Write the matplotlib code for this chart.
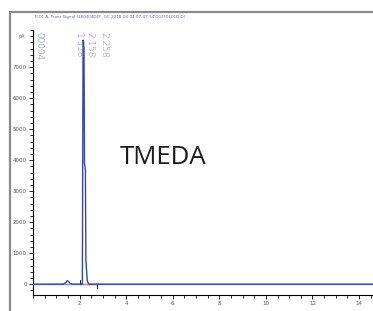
import matplotlib
matplotlib.use("Agg")
import matplotlib.pyplot as plt
from matplotlib.patches import Rectangle
from matplotlib.ticker import MultipleLocator

# chromatogram (min, pA)
tempo = [0.0, 1.30, 1.40, 1.47, 1.52, 1.60, 1.70, 2.00, 2.12, 2.15, 2.19,
         2.21, 2.25, 2.27, 2.33, 2.40, 2.70, 14.6]
sinal = [0, 0, 40, 110, 90, 20, 0, 0, 0, 7870, 7600,
         3900, 3700, 800, 100, 0, 0, 0]

# integration baseline and markers
base_ini = 2.00
base_fim = 2.73

titulo = "FID1 A, Front Signal (180404DEF_GC 2018-04-04 07-47-54\\102F0101D.D)"
composto = "TMEDA"

x_ticks = [2, 4, 6, 8, 10, 12, 14]
y_ticks = [0, 1000, 2000, 3000, 4000, 5000, 6000, 7000]

# rotated peak labels at the top (time, text)
rotulos_t = [0.25, 1.95, 2.45, 3.05]
rotulos_txt = ["00004", "1.518", "2.158", "2.258"]

fig = plt.figure(figsize=(3.73, 3.11), dpi=100)
fig.patch.set_facecolor("white")

# gray outer frame
fig.patches.append(Rectangle((10 / 373, -0.05), 1.1, 1 - 12 / 311 + 0.05,
                             transform=fig.transFigure, fill=False,
                             edgecolor="#8a8a8a", linewidth=1.6))

ax = fig.add_axes([33 / 373, 1 - 295 / 311, 1 - 33 / 373, (295 - 30) / 311])
ax.set_xlim(0, 14.6)
ax.set_ylim(-350, 8200)

ax.axhline(0, color="#8a9ad6", linewidth=1.0, zorder=1)
ax.plot(tempo, sinal, color="#3347a8", linewidth=1.0, zorder=3)
ax.plot([base_ini, base_fim], [0, 0], color="#e07aa8", linewidth=1.0, zorder=2)
ax.plot([base_ini, base_ini], [0, 120], color="black", linewidth=0.6)
ax.plot([base_fim, base_fim], [0, -140], color="black", linewidth=0.6)

for s in ["top", "right"]:
    ax.spines[s].set_visible(False)
for s in ["left", "bottom"]:
    ax.spines[s].set_linewidth(0.8)

ax.set_xticks(x_ticks)
ax.set_yticks(y_ticks)
ax.xaxis.set_minor_locator(MultipleLocator(0.5))
ax.yaxis.set_minor_locator(MultipleLocator(200))
ax.tick_params(which="major", length=3, width=0.6, labelsize=4,
               labelcolor="#555555", pad=1.5)
ax.tick_params(which="minor", length=2, width=0.6)

ax.text(-0.35, 8000, "pA", fontsize=3.5, color="#555555", ha="right",
        va="center")

fig.text(35 / 373, 1 - 17 / 311, titulo, fontsize=3.0, color="#5a6cc0",
         family=["Liberation Sans Narrow", "DejaVu Sans"], va="center")

for t, txt in zip(rotulos_t, rotulos_txt):
    ax.text(t, 8150, txt, rotation=-90, fontsize=6.5, color="#6a7cd0",
            family=["Liberation Sans Narrow", "DejaVu Sans"],
            fontweight="light", ha="center", va="top")

ax.text(3.72, 4080, composto, fontsize=18.5, color="#1a1a1a",
        family=["Open Sans", "DejaVu Sans"], va="center")

plt.savefig("out.png", dpi=100)
